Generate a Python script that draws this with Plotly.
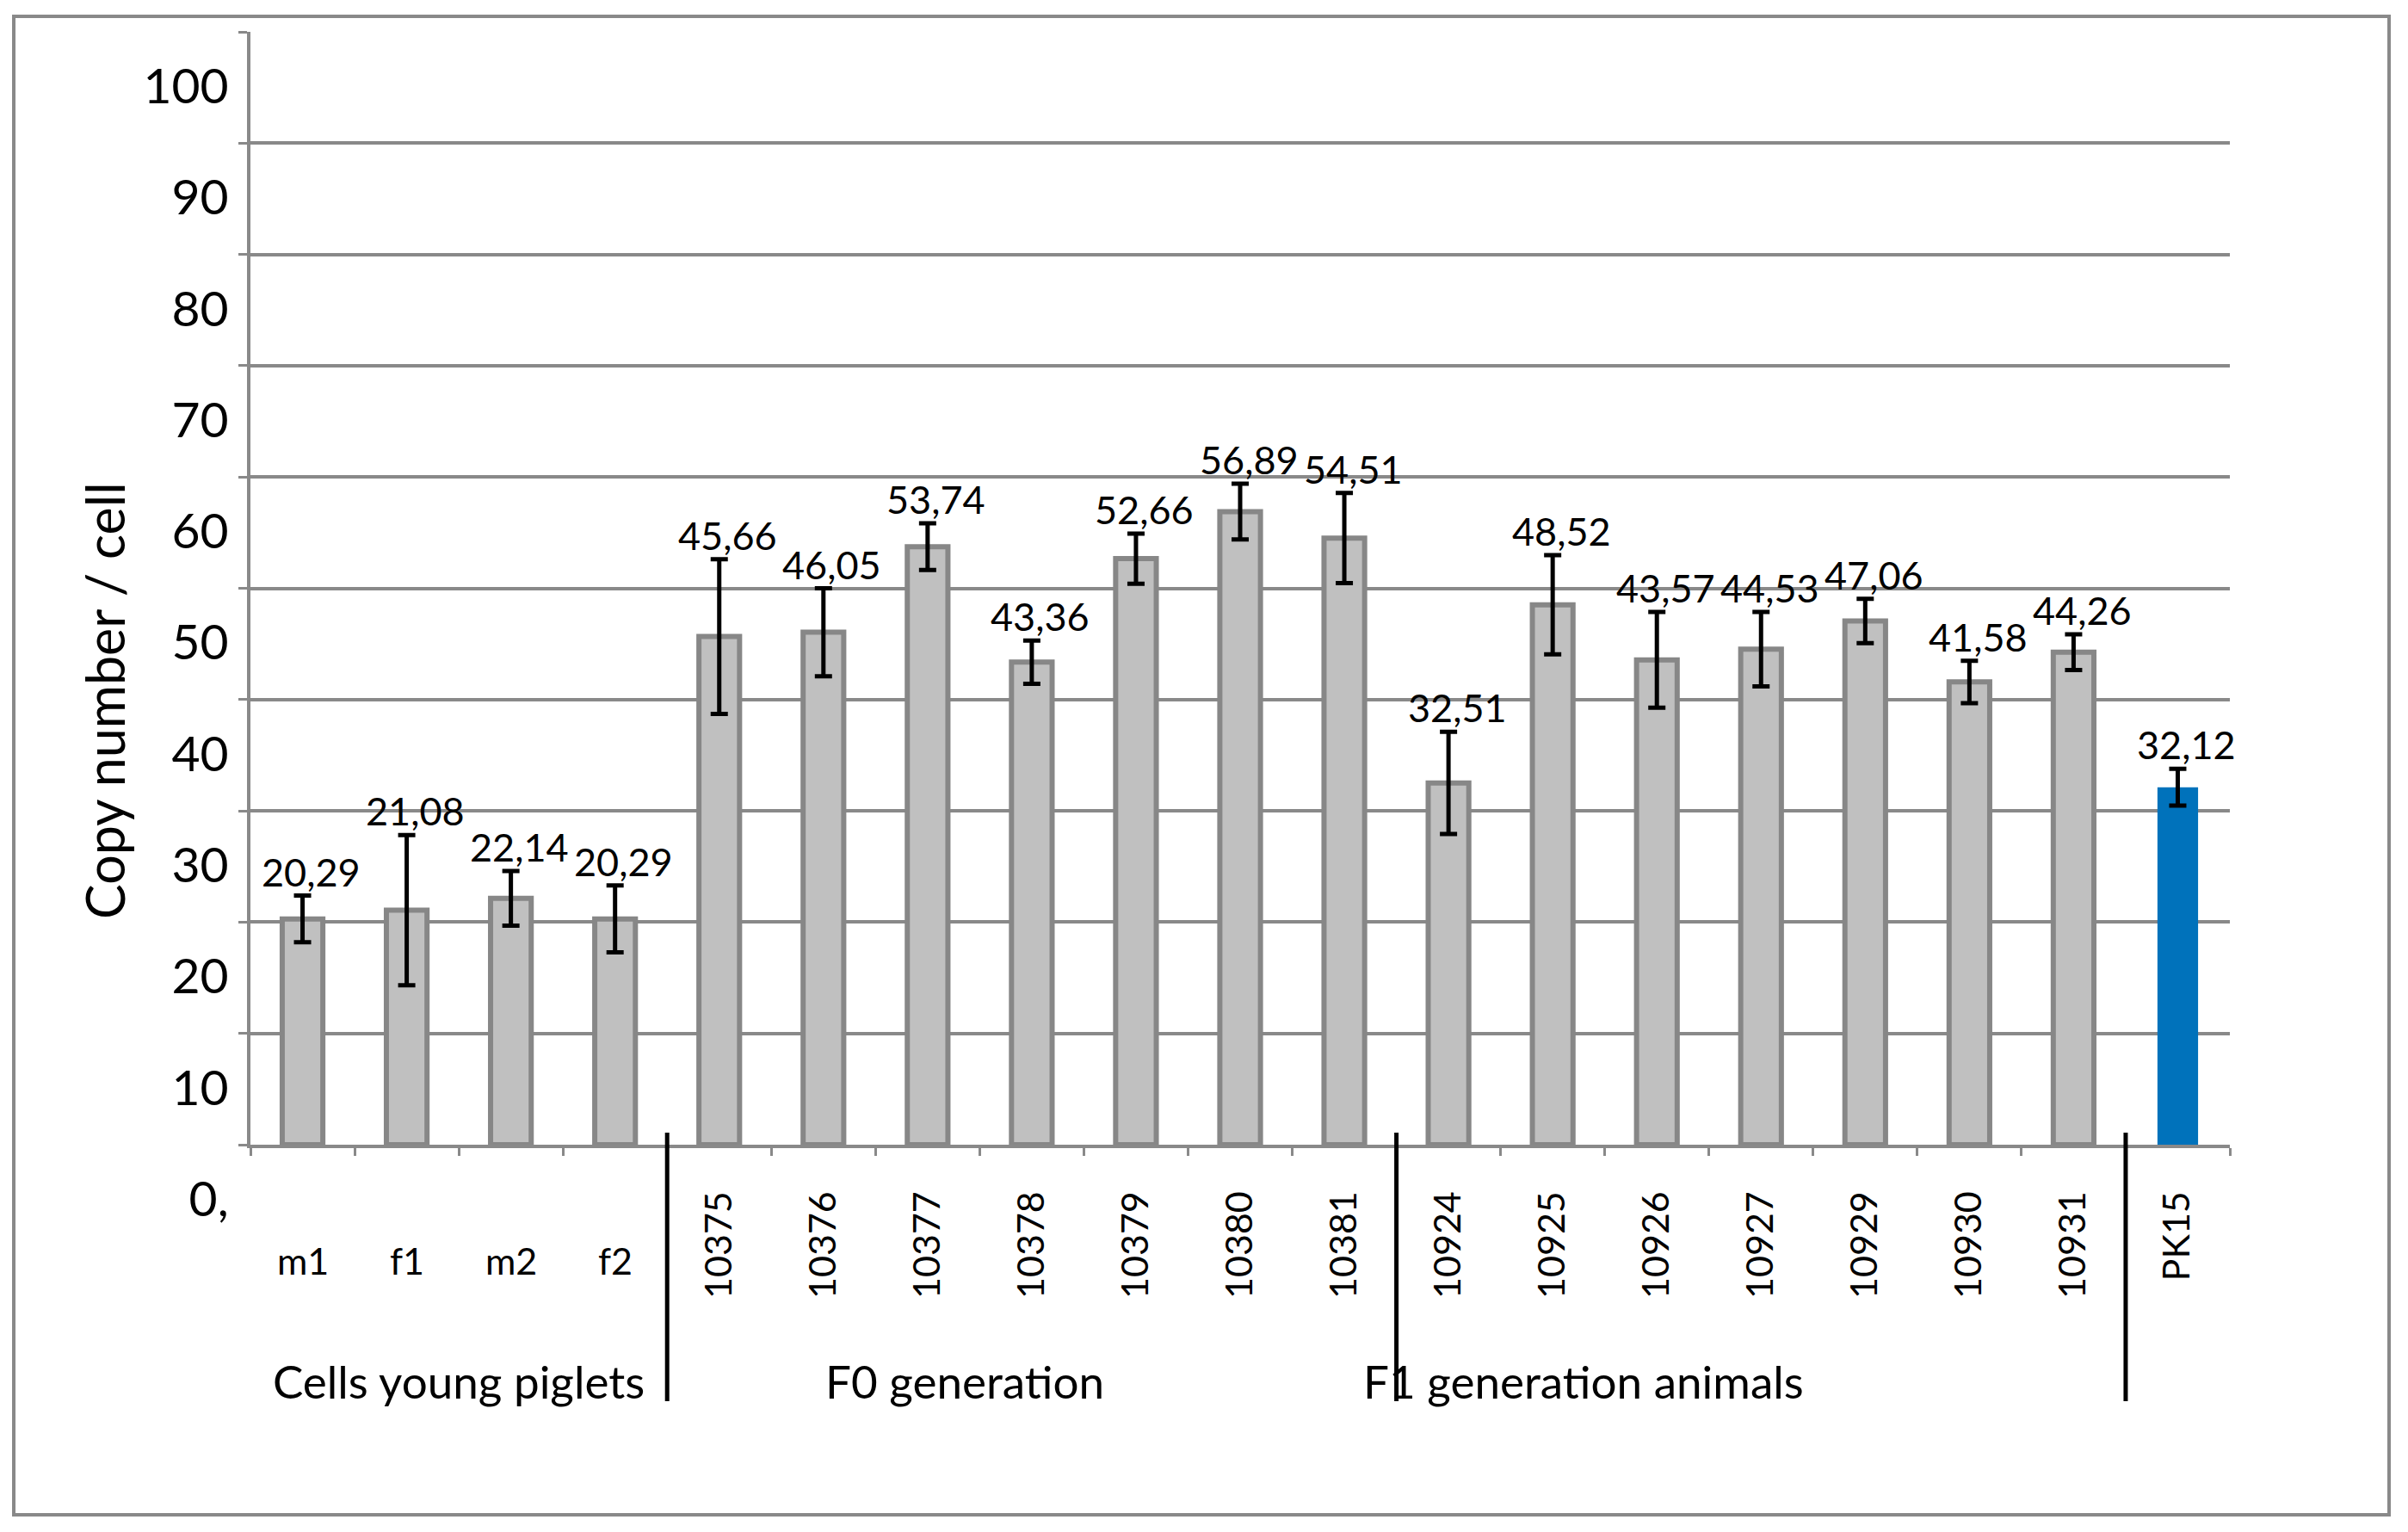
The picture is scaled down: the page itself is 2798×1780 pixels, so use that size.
import plotly.graph_objects as go

# ---------------- data ----------------
categories = ["m1", "f1", "m2", "f2",
              "10375", "10376", "10377", "10378", "10379", "10380", "10381",
              "10924", "10925", "10926", "10927", "10929", "10930", "10931",
              "PK15"]
values = [20.29, 21.08, 22.14, 20.29,
          45.66, 46.05, 53.74, 43.36, 52.66, 56.89, 54.51,
          32.51, 48.52, 43.57, 44.53, 47.06, 41.58, 44.26,
          32.12]
errors = [2.1, 6.75, 2.45, 3.0,
          6.95, 3.95, 2.1, 1.95, 2.25, 2.5, 4.05,
          4.6, 4.45, 4.3, 3.35, 2.0, 1.9, 1.6,
          1.65]
horizontal_labels = ["m1", "f1", "m2", "f2"]
group_labels = ["Cells young piglets", "F0 generation", "F1 generation animals"]
y_tick_values = [0, 10, 20, 30, 40, 50, 60, 70, 80, 90, 100]
y_tick_labels = ["0,", "10", "20", "30", "40", "50", "60", "70", "80", "90", "100"]
y_title = "Copy number / cell"

# ---------------- geometry ----------------
W_FIG, H_FIG = 2798, 1780
L, R_EDGE, T, B = 291, 2591, 37, 1330
W = R_EDGE - L
H = B - T


def px2x(px):
    return (px - L) / W


def py2y(py):
    return (B - py) / H


GRID = "#898989"
BAR_GRAY = "#c0c0c0"
BAR_EDGE = "#878787"
BLUE = "#0072bb"
FONT = "Lato"

n = len(categories)
bar_colors = [BAR_GRAY] * (n - 1) + [BLUE]
edge_colors = [BAR_EDGE] * (n - 1) + [BLUE]
edge_widths = [6] * (n - 1) + [0]

fig = go.Figure()
fig.add_trace(go.Bar(
    x=categories,
    y=values,
    width=0.39,
    marker=dict(color=bar_colors, line=dict(color=edge_colors, width=edge_widths)),
    error_y=dict(type="data", array=errors, visible=True, color="black",
                 thickness=5, width=10),
    hoverinfo="skip",
    showlegend=False,
))

annotations = []
# data labels above the error bars (x given as category index)
for i, (v, e) in enumerate(zip(values, errors)):
    annotations.append(dict(
        x=i, y=v + e, xref="x", yref="y",
        text=f"{v:.2f}".replace(".", ","),
        showarrow=False, yanchor="middle", xanchor="center",
        yshift=28, xshift=10,
        font=dict(family=FONT, size=45, color="black"),
    ))
# horizontal category labels
for c in horizontal_labels:
    annotations.append(dict(
        x=categories.index(c), y=py2y(1465), xref="x", yref="paper",
        text=c, showarrow=False, yanchor="middle", xanchor="center",
        font=dict(family=FONT, size=43, color="black"),
    ))
# group labels
for gx, g in zip([1.5, 6.36, 12.3], group_labels):
    annotations.append(dict(
        x=gx, y=py2y(1604), xref="x", yref="paper",
        text=g, showarrow=False, yanchor="middle", xanchor="center",
        font=dict(family=FONT, size=53, color="black"),
    ))
# y axis title
annotations.append(dict(
    x=px2x(121), y=py2y(814), xref="paper", yref="paper",
    text=y_title, textangle=-90, showarrow=False,
    xanchor="center", yanchor="middle",
    font=dict(family=FONT, size=61, color="black"),
))

shapes = []
# separators between groups
for sx in [3.5, 10.5, 17.5]:
    shapes.append(dict(type="line", xref="x", yref="paper",
                       x0=sx, x1=sx, y0=py2y(1316), y1=py2y(1628),
                       line=dict(color="black", width=5)))
# outer border
shapes.append(dict(type="rect", xref="paper", yref="paper",
                   x0=px2x(16), x1=px2x(2776), y0=py2y(1760), y1=py2y(19),
                   line=dict(color=GRID, width=4), fillcolor="rgba(0,0,0,0)",
                   layer="above"))

tick_text_x = ["" if c in horizontal_labels else c for c in categories]

fig.update_layout(
    width=W_FIG, height=H_FIG,
    margin=dict(l=L, r=W_FIG - R_EDGE, t=T, b=H_FIG - B, pad=0),
    paper_bgcolor="white", plot_bgcolor="white",
    font=dict(family=FONT, color="black"),
    annotations=annotations,
    shapes=shapes,
    xaxis=dict(
        type="category", categoryorder="array", categoryarray=categories,
        range=[-0.5, n - 0.5],
        tickmode="array", tickvals=categories, ticktext=tick_text_x,
        tickangle=-90, tickfont=dict(family=FONT, size=43, color="black"),
        tickson="boundaries", ticks="outside", ticklen=9, tickwidth=3, tickcolor=GRID,
        ticklabelstandoff=33,
        showline=True, linecolor=GRID, linewidth=4,
        showgrid=False, zeroline=False, fixedrange=True,
    ),
    yaxis=dict(
        range=[0, 100],
        tickmode="array", tickvals=y_tick_values, ticktext=y_tick_labels,
        tickfont=dict(family=FONT, size=57, color="black"),
        ticks="outside", ticklen=10, tickwidth=3, tickcolor=GRID,
        ticklabelshift=63, ticklabelstandoff=0,
        showline=True, linecolor=GRID, linewidth=4,
        showgrid=True, gridcolor=GRID, gridwidth=4,
        zeroline=False, fixedrange=True,
    ),
)

fig.write_html("out.html", config={"displayModeBar": False},
               post_script="document.body.style.margin='0';")
